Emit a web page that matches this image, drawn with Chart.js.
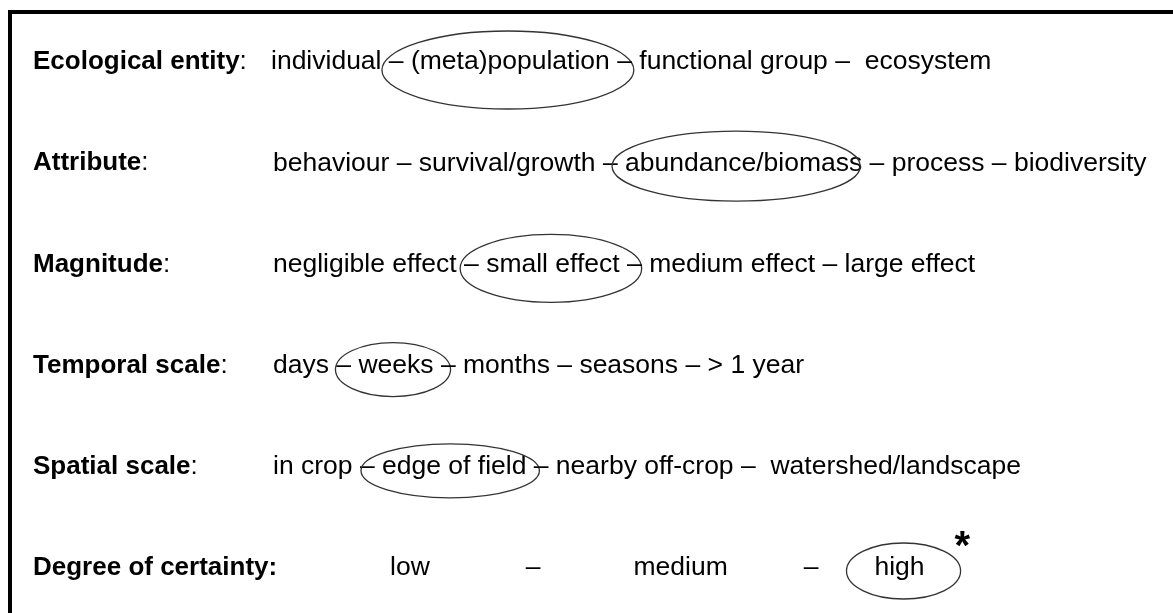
<!DOCTYPE html>
<html>
<head>
<meta charset="utf-8">
<script src="https://cdn.jsdelivr.net/npm/chart.js@4/dist/chart.umd.min.js"></script>
<style>
  body { margin: 0; background: #fff; }
  #wrap { width: 1173px; height: 613px; }
</style>
</head>
<body>
<div id="wrap"><canvas id="diagram"></canvas></div>
<script>
// rows of the diagram
const rowLabels = ['Ecological entity', 'Attribute', 'Magnitude', 'Temporal scale', 'Spatial scale', 'Degree of certainty']
const rowItems = [
    ['individual', '(meta)population', 'functional group', ' ecosystem'],
    ['behaviour', 'survival/growth', 'abundance/biomass', 'process', 'biodiversity'],
    ['negligible effect', 'small effect', 'medium effect', 'large effect'],
    ['days', 'weeks', 'months', 'seasons', '> 1 year'],
    ['in crop', 'edge of field', 'nearby off-crop', ' watershed/landscape'],
    ['low', 'medium', 'high']
]
// index of the circled item in each row
const circled = [1, 2, 1, 1, 1, 2]

// layout (pixels on the x scale)
const FONT = '"Liberation Sans", Arial, sans-serif'
const labelX = 33
const valueX = [271, 273, 273, 273, 273, 390]
// spacing around the dashes of the last row: [before, after] for each dash
const wideGaps = [[96, 93], [76, 56]]
const ellPad = [[29, 24], [13, -2], [26, 22], [23, 17], [21, 13], [28, 36]]
const ellHalfH = [39, 35, 34, 27, 27, 28]
const ellDy = [8, 3, 4, 4, 4, 3]

const diagramPlugin = {
    id: 'diagram',
    beforeDraw(chart) {
        const ctx = chart.ctx
        ctx.save()
        ctx.fillStyle = '#fff'
        ctx.fillRect(0, 0, chart.width, chart.height)
        ctx.strokeStyle = '#000'
        ctx.lineWidth = 4
        ctx.beginPath()
        ctx.moveTo(10, chart.height)
        ctx.lineTo(10, 12)
        ctx.lineTo(chart.width, 12)
        ctx.stroke()
        ctx.restore()
    },
    afterDatasetsDraw(chart) {
        const ctx = chart.ctx
        const xs = chart.scales.x
        const ys = chart.scales.y
        ctx.save()
        ctx.fillStyle = '#000'
        ctx.textBaseline = 'middle'
        ctx.textAlign = 'left'
        rowLabels.forEach((label, r) => {
            const y = ys.getPixelForValue(r)
            ctx.font = 'bold 26px ' + FONT
            ctx.fillText(label, xs.getPixelForValue(labelX), y)
            const lw = ctx.measureText(label).width
            ctx.font = (r === 5 ? 'bold ' : '') + '26px ' + FONT
            ctx.fillText(':', xs.getPixelForValue(labelX) + lw, y)

            ctx.font = '26.5px ' + FONT
            let x = xs.getPixelForValue(valueX[r])
            rowItems[r].forEach((item, i) => {
                if (i > 0) {
                    if (r === 5) {
                        x += wideGaps[i - 1][0]
                        ctx.fillText('–', x, y)
                        x += ctx.measureText('–').width + wideGaps[i - 1][1]
                    } else {
                        ctx.fillText(' – ', x, y)
                        x += ctx.measureText(' – ').width
                    }
                }
                const w = ctx.measureText(item).width
                ctx.fillText(item, x, y)
                if (i === circled[r]) {
                    const x0 = x - ellPad[r][0]
                    const x1 = x + w + ellPad[r][1]
                    ctx.save()
                    ctx.strokeStyle = '#333'
                    ctx.lineWidth = 1.3
                    ctx.beginPath()
                    ctx.ellipse((x0 + x1) / 2, y + ellDy[r], (x1 - x0) / 2, ellHalfH[r], 0, 0, Math.PI * 2)
                    ctx.stroke()
                    ctx.restore()
                    if (r === 5) {
                        ctx.font = 'bold 40px ' + FONT
                        ctx.fillText('*', x1 - 6, y - 20)
                        ctx.font = '26.5px ' + FONT
                    }
                }
                x += w
            })
        })
        ctx.restore()
    }
}

new Chart(document.getElementById('diagram'), {
    type: 'scatter',
    data: {
        datasets: [{ data: [], pointRadius: 0 }]
    },
    options: {
        responsive: true,
        maintainAspectRatio: false,
        animation: false,
        layout: { padding: { left: 0, right: 0, top: 62, bottom: 45 } },
        plugins: { legend: { display: false }, tooltip: { enabled: false } },
        scales: {
            x: { type: 'linear', min: 0, max: 1173, display: false },
            y: { type: 'category', labels: rowLabels, offset: false, display: false }
        }
    },
    plugins: [diagramPlugin]
})
</script>
</body>
</html>
